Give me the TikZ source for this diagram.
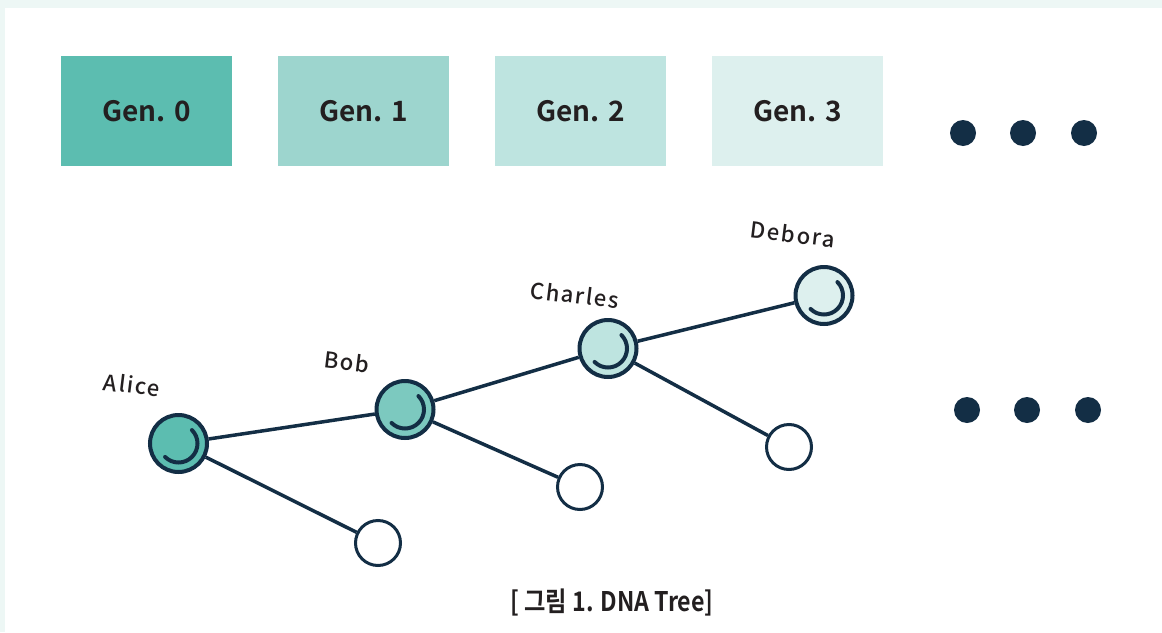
\documentclass[tikz,border=0pt]{standalone}
\usepackage{fontspec}
\setmainfont{Noto Sans CJK KR}
\newfontfamily\genfont{Noto Sans CJK KR Bold}
\newfontfamily\lblfont[LetterSpace=8]{Noto Sans CJK KR Medium}
\newfontfamily\capfont{Noto Sans CJK KR Bold}
\definecolor{navy}{HTML}{132E45}
\definecolor{ink}{HTML}{231F20}
\definecolor{mint}{HTML}{EDF7F5}
\definecolor{g0}{HTML}{5CBDB0}
\definecolor{g1}{HTML}{9DD5CE}
\definecolor{g2}{HTML}{BEE4E0}
\definecolor{g3}{HTML}{DDF0EE}
\definecolor{bobc}{HTML}{7CC9BF}
\tikzset{
  genbox/.style={minimum width=171pt, minimum height=110pt, inner sep=0pt, text=ink, font=\genfont\fontsize{28}{32}\selectfont},
  person/.style={circle, draw=navy, line width=4pt, minimum size=57pt, inner sep=0pt},
  leaf/.style={circle, draw=navy, fill=white, line width=3pt, minimum size=45pt, inner sep=0pt},
  link/.style={draw=navy, line width=3.5pt},
  arcmark/.style={draw=navy, line width=4pt, line cap=round},
  dotmark/.style={circle, fill=navy, minimum size=26pt, inner sep=0pt},
  namelbl/.style={text=ink, font=\lblfont\fontsize{22}{26}\selectfont, rotate=-7, inner sep=0pt}
}
\begin{document}
\begin{tikzpicture}[x=1pt,y=-1pt]
\useasboundingbox (0,0) rectangle (1162,632);
\fill[mint] (0,0) rectangle (1162,632);
\fill[white] (5,8) rectangle (1162,632);
% generation boxes
\node[genbox, fill=g0] (gen0) at (146.5,111) {Gen. 0};
\node[genbox, fill=g1] (gen1) at (363.5,111) {Gen. 1};
\node[genbox, fill=g2] (gen2) at (580.5,111) {Gen. 2};
\node[genbox, fill=g3] (gen3) at (797.5,111) {Gen. 3};
% dots
\node[dotmark] (d1) at (963,133) {};
\node[dotmark] (d2) at (1023,133) {};
\node[dotmark] (d3) at (1084,133) {};
\node[dotmark] (d4) at (967,410) {};
\node[dotmark] (d5) at (1027,410) {};
\node[dotmark] (d6) at (1088,410) {};
% persons
\node[person, fill=g0] (alice) at (178.5,443.5) {};
\node[person, fill=bobc] (bob) at (405,409.5) {};
\node[person, fill=g2] (charles) at (608,348.5) {};
\node[person, fill=g3] (debora) at (824,295.5) {};
\node[leaf] (l1) at (378,543) {};
\node[leaf] (l2) at (580,487) {};
\node[leaf] (l3) at (789,447) {};
% links
\draw[link] (alice) -- (bob);
\draw[link] (bob) -- (charles);
\draw[link] (charles) -- (debora);
\draw[link] (alice) -- (l1);
\draw[link] (bob) -- (l2);
\draw[link] (charles) -- (l3);
% inner arcs
\foreach \p in {alice,bob,charles,debora}{
  \draw[arcmark] ([shift={(-45:19)}]\p.center) arc[start angle=-45, end angle=135, radius=19];
}
% names
\node[namelbl] (tA) at (132,385) {Alice};
\node[namelbl] (tB) at (347,362) {Bob};
\node[namelbl] (tC) at (575,295) {Charles};
\node[namelbl] (tD) at (793,234) {Debora};
% caption
\node[text=ink, font=\capfont\fontsize{27}{30}\selectfont, xscale=0.86, inner sep=0pt] (cap) at (612,603) {[ 그림 1. DNA Tree]};
\end{tikzpicture}
\end{document}
